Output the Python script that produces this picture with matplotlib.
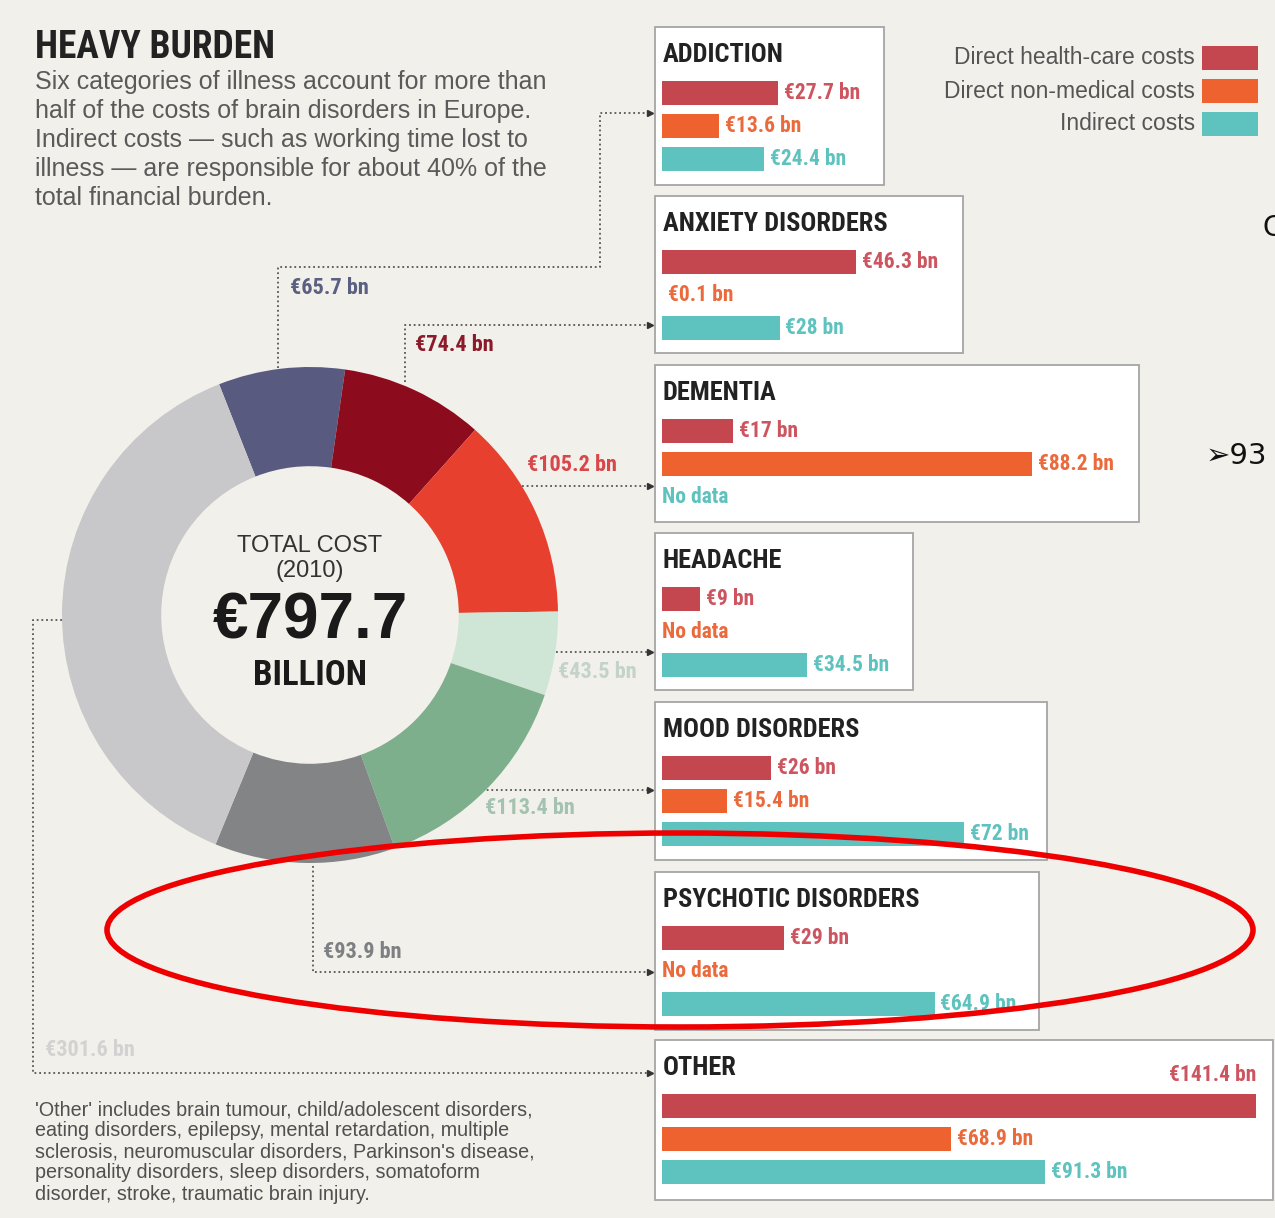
import matplotlib.pyplot as plt
from matplotlib import font_manager
from matplotlib.patches import Rectangle, Ellipse

# --- data -------------------------------------------------------------
categories = ["ADDICTION", "ANXIETY DISORDERS", "DEMENTIA", "HEADACHE",
              "MOOD DISORDERS", "PSYCHOTIC DISORDERS", "OTHER"]
totals = [65.7, 74.4, 105.2, 43.5, 113.4, 93.9, 301.6]
health = [27.7, 46.3, 17, 9, 26, 29, 141.4]
nonmed = [13.6, 0.1, 88.2, None, 15.4, None, 68.9]
indirect = [24.4, 28, None, 34.5, 72, 64.9, 91.3]
series_names = ["Direct health-care costs", "Direct non-medical costs", "Indirect costs"]
total_cost = 797.7

# --- style --------------------------------------------------------------
W, H = 1275, 1218
BG = '#f1f0ea'
avail = {f.name for f in font_manager.fontManager.ttflist}
cond_choices = ['Roboto Condensed', 'Liberation Sans Narrow', 'DejaVu Sans Condensed',
                'Open Sans Condensed', 'Noto Sans Condensed']
cond_name = next((n for n in cond_choices if n in avail), 'Liberation Sans')
COND = [cond_name, 'DejaVu Sans']
cs = 1.0 if cond_name != 'Liberation Sans' else 0.86   # shrink if no narrow face
SANS = ['Liberation Sans', 'DejaVu Sans']

donut_colors = ['#595a80', '#8c0b1d', '#e8402f', '#cfe5d5', '#7daf8d', '#828486', '#c8c8ca']
donut_label_colors = ['#5b5f82', '#8b1a2a', '#d9474a', '#c3d3ca', '#a3c2b0', '#7d7f82', '#d2d2d2']
series_colors = ['#c4474f', '#ee6230', '#5ec2be']
label_colors = ['#cc5560', '#ea6a3c', '#5ec2be']

# box outlines (x0, y0, x1, y1) in pixels
boxes = [(655, 27, 884, 185), (655, 196, 963, 353), (655, 365, 1139, 522),
         (655, 533, 913, 690), (655, 702, 1047, 860), (655, 872, 1039, 1030),
         (655, 1040, 1273, 1200)]
# donut value labels (left x, centre y)
donut_label_pos = [(290, 288), (415, 345), (527, 465), (558, 672),
                   (485, 808), (323, 952), (45, 1050)]
connectors = [
    [(278, 368), (278, 267), (600, 267), (600, 113), (650, 113)],
    [(405, 382), (405, 325), (650, 325)],
    [(522, 486), (650, 486)],
    [(556, 652), (650, 652)],
    [(482, 790), (650, 790)],
    [(313, 866), (313, 972), (650, 972)],
    [(62, 620), (33, 620), (33, 1073), (650, 1073)],
]
PX_PER_BN = 4.2

fig = plt.figure(figsize=(W / 100, H / 100), dpi=100, facecolor=BG)


def px_axes(x0, y0, w, h):
    ax = fig.add_axes([x0 / W, 1 - (y0 + h) / H, w / W, h / H])
    ax.patch.set_visible(False)
    ax.axis('off')
    return ax


bg = px_axes(0, 0, W, H)
bg.set_xlim(0, W)
bg.set_ylim(H, 0)

# title block
bg.text(35, 47, "HEAVY BURDEN", family=COND, weight='bold', fontsize=27 * cs,
        color='#222222', va='center')
intro = ["Six categories of illness account for more than",
         "half of the costs of brain disorders in Europe.",
         "Indirect costs \u2014 such as working time lost to",
         "illness \u2014 are responsible for about 40% of the",
         "total financial burden."]
for k, line in enumerate(intro):
    bg.text(35, 82 + k * 29, line, family=SANS, fontsize=18, color='#5a5a5a', va='center')

footnote = ["'Other' includes brain tumour, child/adolescent disorders,",
            "eating disorders, epilepsy, mental retardation, multiple",
            "sclerosis, neuromuscular disorders, Parkinson's disease,",
            "personality disorders, sleep disorders, somatoform",
            "disorder, stroke, traumatic brain injury."]
for k, line in enumerate(footnote):
    bg.text(35, 1110 + k * 21, line, family=SANS, fontsize=14.2, color='#505050', va='center')

# legend
for j, name in enumerate(series_names):
    y = 58 + j * 33
    bg.text(1195, y, name, family=SANS, fontsize=16.5, color='#555555', ha='right', va='center')
    bg.add_patch(Rectangle((1202, y - 12), 56, 24, facecolor=series_colors[j], edgecolor='none'))

# connectors
for pts in connectors:
    xs = [p[0] for p in pts]
    ys = [p[1] for p in pts]
    bg.plot(xs, ys, color='#555555', lw=1.3, ls=(0, (1, 1.6)))
    if xs[-1] == 650:
        bg.plot(xs[-1], ys[-1], marker='>', color='#333333', ms=5)

# donut
cx, cy, r = 310, 615, 248
dax = px_axes(cx - r, cy - r, 2 * r, 2 * r)
dax.pie(totals, colors=donut_colors, startangle=111.5, counterclock=False,
        radius=1, wedgeprops=dict(width=0.4, linewidth=0))
dax.set_xlim(-1, 1)
dax.set_ylim(-1, 1)
dax.axis('off')


def dy(py):
    return (cy - py) / r


dax.text(0, dy(546), "TOTAL COST", family=SANS, fontsize=17, color='#333333', ha='center', va='center')
dax.text(0, dy(571), "(2010)", family=SANS, fontsize=17, color='#333333', ha='center', va='center')
dax.text(0, dy(622), f"\u20ac{total_cost:g}", family=SANS, weight='bold', fontsize=46,
         color='#1a1a1a', ha='center', va='center')
dax.text(0, dy(676), "BILLION", family=COND, weight='bold', fontsize=25 * cs,
         color='#1a1a1a', ha='center', va='center')

for i, v in enumerate(totals):
    x, y = donut_label_pos[i]
    bg.text(x, y, f"\u20ac{v:g} bn", family=COND, weight='bold', fontsize=16 * cs,
            color=donut_label_colors[i], va='center')

# category boxes with bars
for i, cat in enumerate(categories):
    x0, y0, x1, y1 = boxes[i]
    bg.add_patch(Rectangle((x0, y0), x1 - x0, y1 - y0, facecolor='white',
                           edgecolor='#a5a5a5', lw=1.3))
    bg.text(663, y0 + 28, cat, family=COND, weight='bold', fontsize=19 * cs,
            color='#222222', va='center')
    ax = px_axes(662, y0 + 66 - 16.5, W - 662, 99)
    ax.set_xlim(0, (W - 662) / PX_PER_BN)
    ax.set_ylim(2.5, -0.5)
    box_units = (x1 - 662) / PX_PER_BN
    for j, vals in enumerate([health, nonmed, indirect]):
        v = vals[i]
        if v is None:
            ax.text(0, j, "No data", family=COND, weight='bold', fontsize=15.5 * cs,
                    color=label_colors[j], va='center')
            continue
        ax.barh(j, v, height=0.73, color=series_colors[j], linewidth=0)
        lab = f"\u20ac{v:g} bn"
        if v + 14 > box_units:
            ax.text(v, j - 0.95, lab, family=COND, weight='bold', fontsize=15.5 * cs,
                    color=label_colors[j], ha='right', va='center')
        else:
            ax.text(v + 1.4, j, lab, family=COND, weight='bold', fontsize=15.5 * cs,
                    color=label_colors[j], va='center')

# overlay: annotation ellipse and slide fragments
top = px_axes(0, 0, W, H)
top.set_xlim(0, W)
top.set_ylim(H, 0)
top.add_patch(Ellipse((680, 930), 1146, 194, facecolor='none', edgecolor='#ee0000', lw=4))
top.text(1262, 228, "C", family=['DejaVu Sans'], fontsize=20, color='#111111', va='center')
top.text(1206, 456, "\u27a293", family=['DejaVu Sans'], fontsize=21, color='#111111', va='center')

fig.savefig('out.png', dpi=100, facecolor=BG)
